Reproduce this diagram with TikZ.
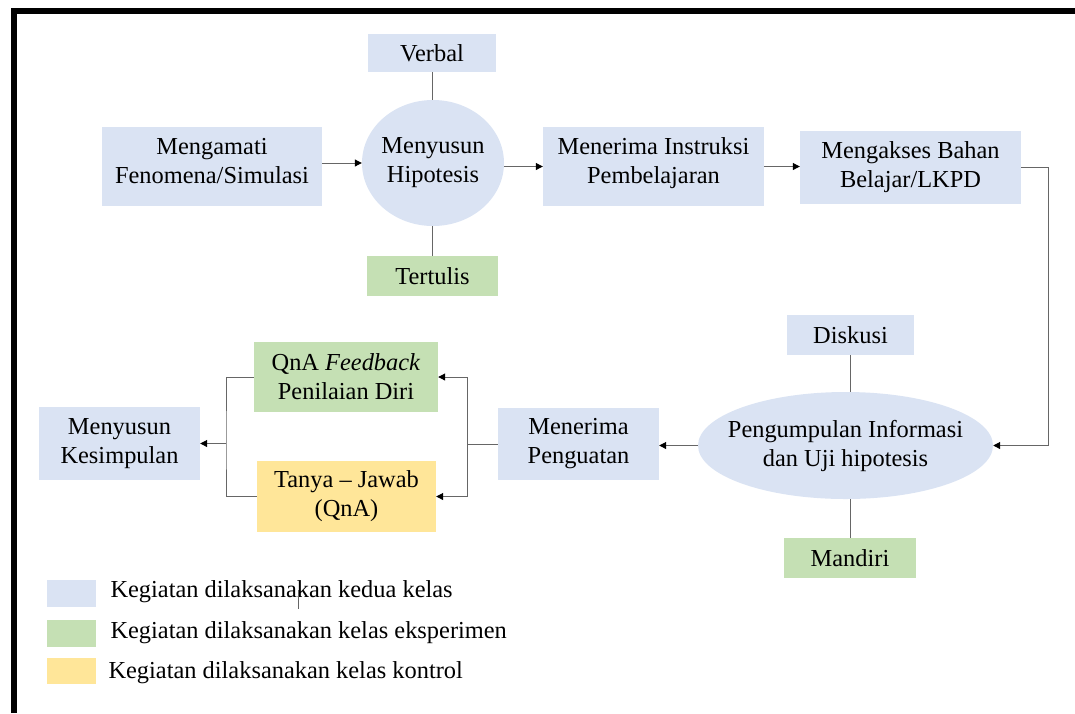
\documentclass[tikz,border=0pt]{standalone}
\usepackage{fontspec}
\setmainfont{Liberation Serif}
\usetikzlibrary{shapes.geometric,arrows.meta}

\definecolor{biru}{HTML}{DAE3F3}
\definecolor{hijau}{HTML}{C5E0B4}
\definecolor{kuning}{HTML}{FFE699}

\begin{document}
\begin{tikzpicture}[x=1pt,y=-1pt,
		font=\fontsize{24.4}{29}\selectfont,
		kotak/.style={rectangle, fill=biru, inner sep=0pt, align=center},
		elips/.style={ellipse, fill=biru, inner sep=0pt},
		garis/.style={draw=black!60, line width=1pt},
		panah/.style={garis, -{Triangle[length=7pt,width=7pt,color=black]}}]
			\useasboundingbox (0,0) rectangle (1075,713);
			
			% Rahmen
			\draw[line width=5.5pt] (14,713) -- (14,11) -- (1075,11);
			
			% obere Reihe
			\node[kotak, minimum width=220pt, minimum height=79pt] (amati) at (212,166.5) {};
			\node[align=center] (amatiteks) at ([yshift=5pt]amati) {Mengamati\\Fenomena/Simulasi};
			\node[elips, minimum width=142pt, minimum height=126pt] (hipo) at (433,163) {};
			\node[align=center] (hipoteks) at (hipo) {Menyusun\\Hipotesis};
			\node[kotak, minimum width=128pt, minimum height=38pt] (verbal) at (432,53) {Verbal};
			\node[kotak, fill=hijau, minimum width=131pt, minimum height=40pt] (tertulis) at (432.5,276) {Tertulis};
			\node[kotak, minimum width=221pt, minimum height=79pt] (instruksi) at (653.5,166.5) {};
			\node[align=center] (instruksiteks) at ([yshift=3pt]instruksi) {Menerima Instruksi\\Pembelajaran};
			\node[kotak, minimum width=221pt, minimum height=73pt] (akses) at (910.5,167.5) {Mengakses Bahan\\Belajar/LKPD};
			
			% untere Reihe
			\node[kotak, minimum width=127pt, minimum height=40pt] (diskusi) at (850.5,335) {Diskusi};
			\node[elips, minimum width=295pt, minimum height=107pt] (kumpul) at (845.5,445.5) {};
			\node[align=center] (kumpulteks) at (kumpul) {Pengumpulan Informasi\\dan Uji hipotesis};
			\node[kotak, fill=hijau, minimum width=132pt, minimum height=40pt] (mandiri) at (850,558) {Mandiri};
			\node[kotak, minimum width=161pt, minimum height=72pt] (penguatan) at (578.5,444) {Menerima\\Penguatan};
			\node[kotak, fill=hijau, minimum width=184pt, minimum height=70pt] (feedback) at (346,377) {QnA \textit{Feedback}\\Penilaian Diri};
			\node[kotak, fill=kuning, minimum width=179pt, minimum height=71pt] (tanya) at (346.5,496.5) {Tanya – Jawab\\(QnA)};
			\node[kotak, minimum width=161pt, minimum height=73pt] (simpul) at (119.5,443.5) {Menyusun\\Kesimpulan};
			
			% Verbindungen
			\draw[panah] (amati.east |- hipo) -- (hipo.west);
			\draw[panah] (hipo.east |- instruksi) -- (instruksi.west);
			\draw[panah] (instruksi.east) -- (instruksi.east -| akses.west);
			\draw[garis] (verbal.south) -- (verbal.south |- hipo.north);
			\draw[garis] (tertulis.north) -- (tertulis.north |- hipo.south);
			
			\coordinate (belok) at (1048,167.5);
			\draw[panah] (akses.east) -- (belok) |- (kumpul.east);
			\draw[garis] (diskusi.south) -- (diskusi.south |- kumpul.north);
			\draw[garis] (mandiri.north) -- (mandiri.north |- kumpul.south);
			\draw[panah] (kumpul.west) -- (kumpul.west -| penguatan.east);
			
			\coordinate (kanan) at (467,444);
			\draw[garis] (penguatan.west) -- (kanan);
			\draw[panah] (kanan) |- (feedback.east);
			\draw[panah] (kanan) |- (tanya.east);
			
			\coordinate (kiri) at (226,443.5);
			\draw[garis] (feedback.west) -| (kiri) |- (tanya.west);
			\draw[panah] (kiri) -- (simpul.east);
			
			% Legende
			\fill[biru] (47,580) rectangle (96,607);
			\fill[hijau] (47,620) rectangle (96,647);
			\fill[kuning] (47,658) rectangle (96,684);
			\node[anchor=base west] (leg1) at (107,597) {Kegiatan dilaksanakan kedua kelas};
			\node[anchor=base west] (leg2) at (107,638) {Kegiatan dilaksanakan kelas eksperimen};
			\node[anchor=base west] (leg3) at (105,678) {Kegiatan dilaksanakan kelas kontrol};
			\draw[black!60, line width=0.8pt] (298,590) -- (298,609);
			
		\end{tikzpicture}
\end{document}
